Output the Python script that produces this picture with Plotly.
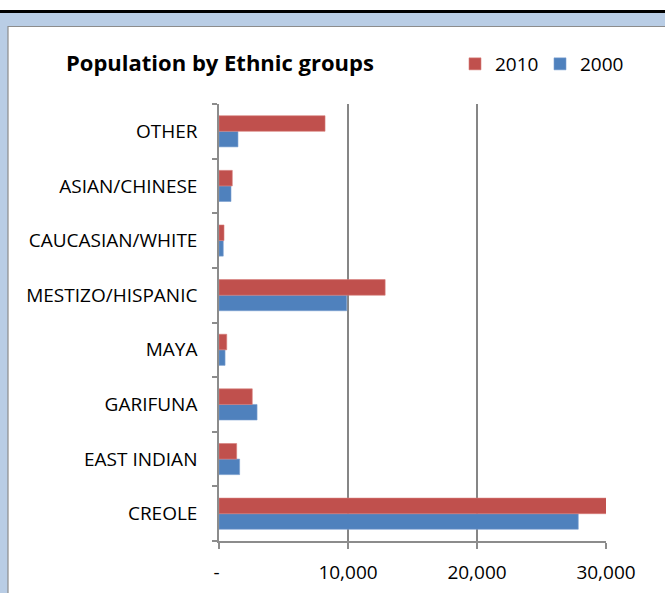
import plotly.graph_objects as go

categories = ["CREOLE", "EAST INDIAN", "GARIFUNA", "MAYA", "MESTIZO/HISPANIC",
              "CAUCASIAN/WHITE", "ASIAN/CHINESE", "OTHER"]
values_2000 = [27850, 1600, 2950, 470, 9900, 330, 930, 1470]
values_2010 = [30200, 1370, 2580, 600, 12880, 390, 1030, 8220]
x_tick_vals = [0, 10000, 20000, 30000]
x_tick_text = ["- ", "10,000", "20,000", "30,000"]

W, H = 665, 593
L, R, T, B = 219, 606, 104, 541

def px_x(p):
    return (p - L) / (R - L)

def px_y(p):
    return (B - p) / (B - T)

FONT = "Open Sans"

fig = go.Figure()
fig.add_trace(go.Bar(y=categories, x=values_2000, name="2000", orientation="h",
                     marker=dict(color="#4F81BD", line=dict(color="#7A9FD0", width=0.6))))
fig.add_trace(go.Bar(y=categories, x=values_2010, name="2010", orientation="h",
                     marker=dict(color="#C0504D", line=dict(color="#D77D7A", width=0.6))))

shapes = [
    dict(type="rect", xref="paper", yref="paper", x0=px_x(-5), x1=px_x(W + 5),
         y0=px_y(10), y1=px_y(-5), fillcolor="white", line=dict(width=0), layer="below"),
    dict(type="rect", xref="paper", yref="paper", x0=px_x(-5), x1=px_x(W + 5),
         y0=px_y(13), y1=px_y(10), fillcolor="black", line=dict(width=0), layer="below"),
    dict(type="rect", xref="paper", yref="paper", x0=px_x(8), x1=px_x(W + 20),
         y0=px_y(H + 20), y1=px_y(26.5), fillcolor="white",
         line=dict(color="#8C8C8C", width=1.2), layer="below"),
]

fig.update_layout(
    width=W, height=H,
    margin=dict(l=L, r=W - R, t=T, b=H - B),
    paper_bgcolor="#B9CDE5",
    plot_bgcolor="rgba(0,0,0,0)",
    barmode="group",
    bargap=0.43,
    bargroupgap=0,
    font=dict(family=FONT, color="#000000", size=15),
    shapes=shapes,
    showlegend=True,
    legend=dict(orientation="h", traceorder="reversed", x=px_x(455), y=px_y(45),
                xanchor="left", yanchor="top", font=dict(size=19, family=FONT),
                bgcolor="rgba(0,0,0,0)", entrywidth=40, entrywidthmode="pixels"),
    annotations=[dict(text="<b>Population by Ethnic groups</b>", xref="paper", yref="paper",
                      x=px_x(64), y=px_y(62), xanchor="left", yanchor="middle",
                      showarrow=False, font=dict(size=22, family=FONT, color="#000000"))],
)
fig.update_xaxes(range=[0, 30000], tickvals=x_tick_vals, ticktext=x_tick_text,
                 showgrid=True, gridcolor="#868686", gridwidth=1.6,
                 showline=True, linecolor="#8C8C8C", linewidth=1.5,
                 ticks="outside", ticklen=6, tickcolor="#8C8C8C", tickwidth=1.5,
                 zeroline=False, tickfont=dict(size=19), ticklabelstandoff=7,
                 automargin=False)
fig.update_yaxes(showgrid=False, showline=True, linecolor="#8C8C8C", linewidth=1.5,
                 ticks="outside", ticklen=5, tickcolor="#8C8C8C", tickwidth=1.5,
                 tickson="boundaries", tickfont=dict(size=19), ticklabelstandoff=16,
                 automargin=False)

fig.write_html("out.html", config={"displayModeBar": False},
               post_script="document.body.style.margin='0';")
